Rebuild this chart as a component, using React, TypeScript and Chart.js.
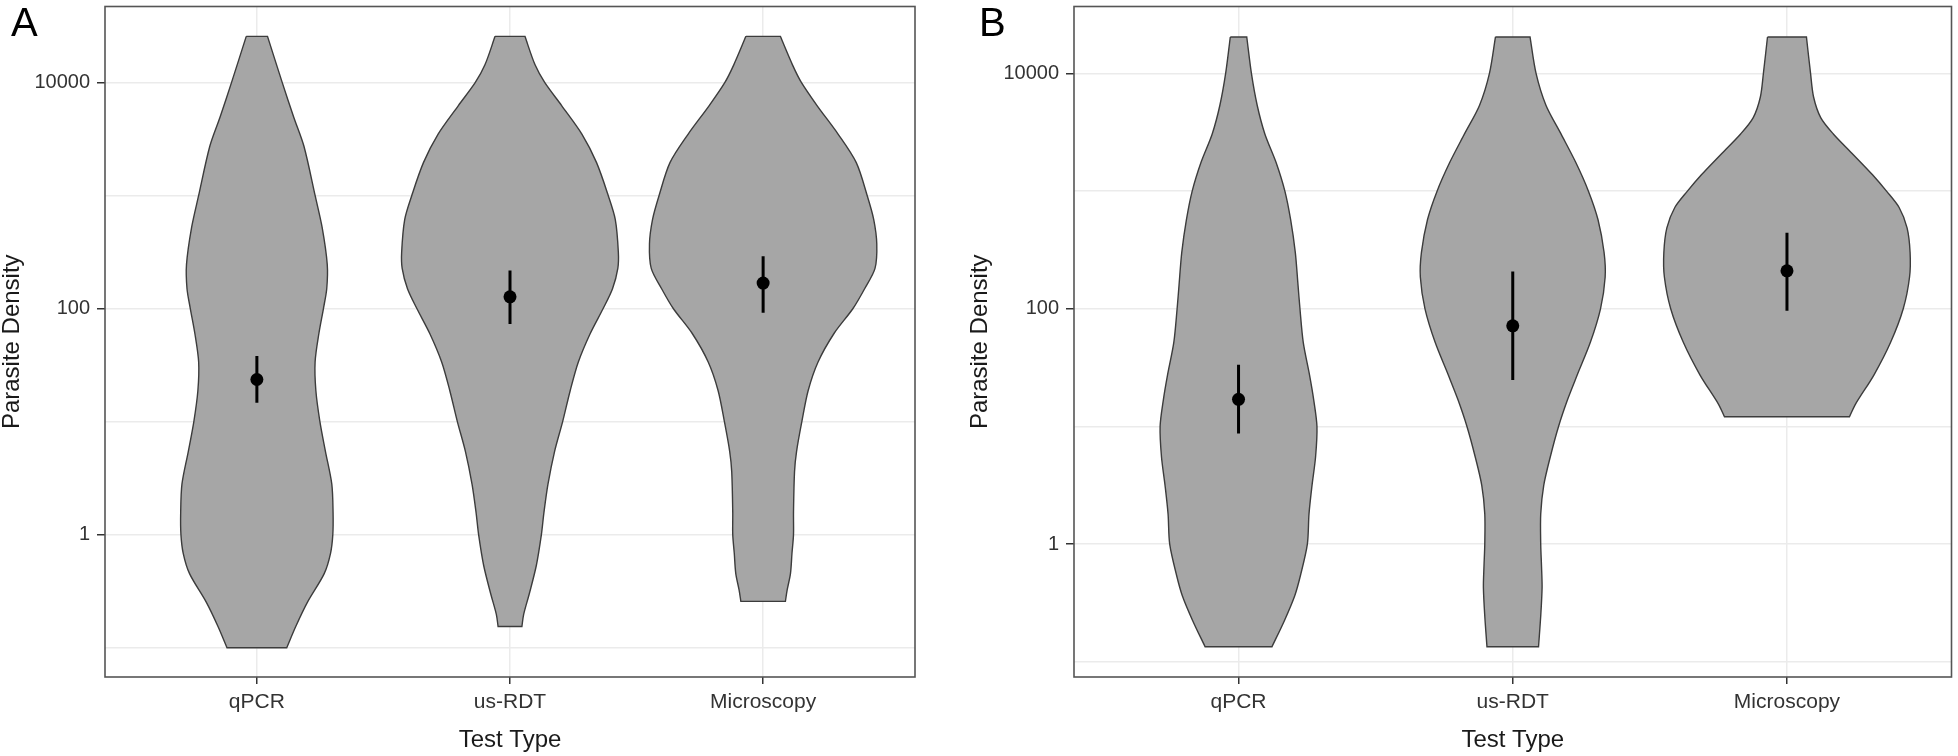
import React, { useEffect, useRef } from 'react';
import { Chart, registerables } from 'chart.js';

Chart.register(...registerables);

const FONT = "'Liberation Sans', Arial, Helvetica, sans-serif";

const CATEGORIES = ['qPCR', 'us-RDT', 'Microscopy'];
const X_TITLE = 'Test Type';
const Y_TITLE = 'Parasite Density';
const Y_TICK_VALUES = [0.1, 1, 10, 100, 1000, 10000];
const Y_TICK_LABELS = ['', '1', '', '100', '', '10000'];

// ---- Panel A : violin outlines (log10 parasite density, half-width in category units)
const A_QPCR_LOG10 = [4.407, 4.0, 3.69, 3.435, 3.0, 2.715, 2.39, 2.175, 2.0, 1.779, 1.527, 1.275, 1.0, 0.735, 0.447, 0.195, 0.0, -0.165, -0.345, -0.597, -0.81, -1.0];
const A_QPCR_HALF = [0.042, 0.1, 0.146, 0.186, 0.23, 0.258, 0.278, 0.276, 0.263, 0.245, 0.23, 0.233, 0.249, 0.271, 0.296, 0.301, 0.3, 0.291, 0.266, 0.2, 0.154, 0.118];

const A_RDT_LOG10 = [4.407, 4.155, 4.0, 3.795, 3.543, 3.29, 3.0, 2.787, 2.5, 2.355, 2.175, 2.0, 1.779, 1.527, 1.275, 1.0, 0.735, 0.447, 0.195, 0.0, -0.273, -0.525, -0.705, -0.813];
const A_RDT_HALF = [0.059, 0.099, 0.137, 0.204, 0.284, 0.342, 0.388, 0.416, 0.428, 0.426, 0.405, 0.368, 0.317, 0.27, 0.238, 0.208, 0.176, 0.15, 0.134, 0.124, 0.104, 0.076, 0.054, 0.047];

const A_MICRO_LOG10 = [4.407, 4.155, 4.0, 3.795, 3.543, 3.29, 3.0, 2.787, 2.571, 2.355, 2.175, 2.0, 1.779, 1.527, 1.275, 1.0, 0.735, 0.555, 0.195, 0.0, -0.165, -0.345, -0.489, -0.59];
const A_MICRO_HALF = [0.068, 0.116, 0.151, 0.213, 0.296, 0.368, 0.411, 0.437, 0.449, 0.442, 0.401, 0.355, 0.28, 0.217, 0.178, 0.153, 0.132, 0.124, 0.12, 0.12, 0.114, 0.108, 0.095, 0.088];

const A_MEDIAN_LOG10 = [1.372, 2.103, 2.225];
const A_CI_LOW_LOG10 = [1.167, 1.862, 1.963];
const A_CI_HIGH_LOG10 = [1.581, 2.337, 2.463];

// ---- Panel B
const B_QPCR_LOG10 = [4.31, 4.0, 3.73, 3.486, 3.243, 3.0, 2.757, 2.479, 2.2, 2.0, 1.715, 1.437, 1.229, 1.0, 0.743, 0.5, 0.257, 0.0, -0.264, -0.438, -0.646, -0.872];
const B_QPCR_HALF = [0.03, 0.047, 0.068, 0.096, 0.137, 0.169, 0.19, 0.207, 0.217, 0.224, 0.236, 0.259, 0.274, 0.286, 0.281, 0.268, 0.257, 0.251, 0.226, 0.205, 0.168, 0.122];

const B_RDT_LOG10 = [4.31, 4.0, 3.73, 3.486, 3.243, 3.0, 2.757, 2.479, 2.27, 2.0, 1.715, 1.437, 1.229, 1.0, 0.743, 0.5, 0.257, 0.0, -0.194, -0.368, -0.611, -0.872];
const B_RDT_HALF = [0.063, 0.085, 0.121, 0.176, 0.23, 0.276, 0.311, 0.333, 0.337, 0.32, 0.283, 0.235, 0.2, 0.167, 0.137, 0.113, 0.102, 0.102, 0.105, 0.107, 0.102, 0.094];

const B_MICRO_LOG10 = [4.31, 4.0, 3.8, 3.625, 3.486, 3.31, 3.139, 3.0, 2.861, 2.688, 2.479, 2.27, 2.0, 1.715, 1.437, 1.194, 1.083];
const B_MICRO_HALF = [0.071, 0.086, 0.097, 0.123, 0.169, 0.242, 0.312, 0.363, 0.409, 0.438, 0.449, 0.447, 0.424, 0.378, 0.317, 0.251, 0.228];

const B_MEDIAN_LOG10 = [1.231, 1.855, 2.323];
const B_CI_LOW_LOG10 = [0.941, 1.396, 1.983];
const B_CI_HIGH_LOG10 = [1.524, 2.316, 2.646];

type Violin = { log10: number[]; half: number[] };
type Panel = {
  letter: string;
  violins: Violin[];
  mid: number[];
  lo: number[];
  hi: number[];
  yMinLog: number;
  yMaxLog: number;
  yAxisWidth: number;
  padRight: number;
  canvasWidth: number;
  canvasLeft: number;
};

const PANEL_A: Panel = {
  letter: 'A',
  violins: [
    { log10: A_QPCR_LOG10, half: A_QPCR_HALF },
    { log10: A_RDT_LOG10, half: A_RDT_HALF },
    { log10: A_MICRO_LOG10, half: A_MICRO_HALF },
  ],
  mid: A_MEDIAN_LOG10,
  lo: A_CI_LOW_LOG10,
  hi: A_CI_HIGH_LOG10,
  yMinLog: -1.259,
  yMaxLog: 4.671,
  yAxisWidth: 105,
  padRight: 53,
  canvasWidth: 968,
  canvasLeft: 0,
};

const PANEL_B: Panel = {
  letter: 'B',
  violins: [
    { log10: B_QPCR_LOG10, half: B_QPCR_HALF },
    { log10: B_RDT_LOG10, half: B_RDT_HALF },
    { log10: B_MICRO_LOG10, half: B_MICRO_HALF },
  ],
  mid: B_MEDIAN_LOG10,
  lo: B_CI_LOW_LOG10,
  hi: B_CI_HIGH_LOG10,
  yMinLog: -1.129,
  yMaxLog: 4.569,
  yAxisWidth: 106,
  padRight: 4,
  canvasWidth: 990,
  canvasLeft: 968,
};

const HEIGHT = 756;
const GRID = '#ebebeb';
const TICK = '#333333';

const panelDecor = {
  id: 'panelDecor',
  afterDraw(chart: any, _args: any, opts: any) {
    const { ctx, chartArea, scales } = chart;
    ctx.save();
    // panel border
    ctx.strokeStyle = '#555555';
    ctx.lineWidth = 1.6;
    ctx.strokeRect(chartArea.left, chartArea.top, chartArea.right - chartArea.left, chartArea.bottom - chartArea.top);
    // x tick labels
    ctx.fillStyle = '#333333';
    ctx.font = `21px ${FONT}`;
    ctx.textAlign = 'center';
    ctx.textBaseline = 'alphabetic';
    CATEGORIES.forEach((c, i) => {
      const x = scales.x.getPixelForValue(i + 1);
      ctx.fillText(c, x, chartArea.bottom + 31);
    });
    // x title
    ctx.fillStyle = '#1a1a1a';
    ctx.font = `24px ${FONT}`;
    ctx.fillText(X_TITLE, (chartArea.left + chartArea.right) / 2, chartArea.bottom + 70);
    // panel letter
    ctx.fillStyle = '#000000';
    ctx.font = `40px ${FONT}`;
    ctx.textAlign = 'left';
    ctx.fillText(opts.letter, 11, 36);
    ctx.restore();
  },
};

function buildConfig(p: Panel): any {
  const datasets: any[] = [];
  p.violins.forEach((v, i) => {
    const c = i + 1;
    const n = v.log10.length;
    const leftSide = v.log10.map((e, k) => ({ x: c - v.half[k], y: Math.pow(10, e) }));
    const rightSide = v.log10.map((e, k) => ({ x: c + v.half[k], y: Math.pow(10, e) })).reverse();
    // repeat the corner vertices (flat ends) so that the smoothed outline keeps sharp corners
    const outline = [
      ...leftSide,
      leftSide[n - 1],
      rightSide[0],
      ...rightSide,
      rightSide[n - 1],
      leftSide[0],
    ];
    datasets.push({
      label: CATEGORIES[i],
      data: outline,
      showLine: true,
      fill: 'shape',
      backgroundColor: '#a6a6a6',
      borderColor: '#3c3c3c',
      borderWidth: 1.4,
      pointRadius: 0,
      tension: 0.3,
      order: 3,
    });
    datasets.push({
      label: CATEGORIES[i] + ' range',
      data: [
        { x: c, y: Math.pow(10, p.lo[i]) },
        { x: c, y: Math.pow(10, p.hi[i]) },
      ],
      showLine: true,
      fill: false,
      borderColor: '#000000',
      borderWidth: 3,
      pointRadius: 0,
      order: 2,
    });
  });
  datasets.push({
    label: 'median',
    data: p.mid.map((e, i) => ({ x: i + 1, y: Math.pow(10, e) })),
    showLine: false,
    pointRadius: 6.5,
    pointBackgroundColor: '#000000',
    pointBorderWidth: 0,
    order: 1,
  });

  return {
    type: 'scatter',
    data: { datasets },
    plugins: [panelDecor],
    options: {
      responsive: false,
      animation: false,
      events: [],
      layout: { padding: { top: 2, right: p.padRight, bottom: 0, left: 0 } },
      plugins: {
        legend: { display: false },
        tooltip: { enabled: false },
        panelDecor: { letter: p.letter },
      },
      scales: {
        x: {
          type: 'linear',
          min: 0.4,
          max: 3.6,
          afterBuildTicks: (s: any) => {
            s.ticks = CATEGORIES.map((_, i) => ({ value: i + 1 }));
          },
          ticks: { display: false },
          grid: { color: GRID, lineWidth: 1.5, tickColor: TICK, tickLength: 7, tickWidth: 1.5 },
          border: { display: false },
          afterFit: (s: any) => {
            s.height = HEIGHT - 677;
            s.paddingLeft = 0;
            s.paddingRight = 0;
          },
        },
        y: {
          type: 'logarithmic',
          min: Math.pow(10, p.yMinLog),
          max: Math.pow(10, p.yMaxLog),
          afterBuildTicks: (s: any) => {
            s.ticks = Y_TICK_VALUES.map((v) => ({ value: v }));
          },
          ticks: {
            autoSkip: false,
            padding: 7,
            color: '#333333',
            font: { family: FONT, size: 20 },
            callback: (_v: any, idx: number) => Y_TICK_LABELS[idx],
          },
          grid: {
            color: GRID,
            lineWidth: 1.5,
            tickLength: 8,
            tickWidth: 1.5,
            tickColor: (ctx: any) => (Y_TICK_LABELS[ctx.index] ? TICK : 'rgba(0,0,0,0)'),
          },
          border: { display: false },
          title: {
            display: true,
            text: Y_TITLE,
            color: '#1a1a1a',
            font: { family: FONT, size: 24, lineHeight: 1 },
            padding: 0,
          },
          afterFit: (s: any) => {
            s.width = p.yAxisWidth;
            s.paddingTop = 0;
            s.paddingBottom = 0;
          },
        },
      },
    },
  };
}

function PanelChart({ panel }: { panel: Panel }) {
  const ref = useRef<HTMLCanvasElement>(null);
  useEffect(() => {
    if (!ref.current) return;
    const chart = new Chart(ref.current, buildConfig(panel));
    return () => chart.destroy();
  }, [panel]);
  return (
    <canvas
      ref={ref}
      width={panel.canvasWidth}
      height={HEIGHT}
      style={{ position: 'absolute', left: panel.canvasLeft, top: 0, width: panel.canvasWidth, height: HEIGHT }}
    />
  );
}

export default function App() {
  Chart.defaults.font.family = FONT;
  return (
    <div style={{ position: 'absolute', left: 0, top: 0, width: 1958, height: HEIGHT, background: '#ffffff' }}>
      <PanelChart panel={PANEL_A} />
      <PanelChart panel={PANEL_B} />
    </div>
  );
}
